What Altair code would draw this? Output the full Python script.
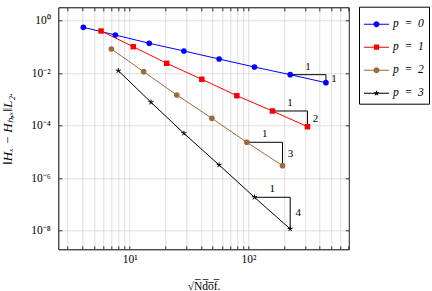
import math
import altair as alt
import pandas as pd

# Convergence data: sqrt(Ndof) against the L2 error, one list pair per degree p
labels = ["p\u2002=\u20020", "p\u2002=\u20021", "p\u2002=\u20022", "p\u2002=\u20023"]
colors = ["#0000ff", "#ff0000", "#9c6b3a", "#000000"]

x_p0 = [4.06, 7.56, 14.6, 28.6, 56.7, 112.6, 225.3, 451]
y_p0 = [0.56, 0.285, 0.138, 0.070, 0.0347, 0.0172, 0.00877, 0.00435]
x_p1 = [5.73, 10.7, 20.5, 40.5, 80.0, 159.7, 315]
y_p1 = [0.405, 0.102, 0.0238, 0.00586, 0.00139, 3.63e-4, 9.16e-5]
x_p2 = [7.0, 13.1, 24.9, 49.2, 97.1, 194]
y_p2 = [0.0835, 0.0114, 1.48e-3, 1.91e-4, 2.33e-5, 3.0e-6]
x_p3 = [8.01, 15.1, 28.6, 56.7, 112.6, 225.3]
y_p3 = [0.01245, 7.8e-4, 5.1e-5, 3.18e-6, 1.87e-7, 1.16e-8]

# Labels of the slope triangles (run, rise)
run_labels = ["1", "1", "1", "1"]
rise_labels = ["1", "2", "3", "4"]

# Axis ticks
x_ticks = [3, 4, 5, 6, 7, 8, 9, 10, 20, 30, 40, 50, 60, 70, 80, 90,
           100, 200, 300, 400, 500, 600, 700]
y_ticks = [1, 1e-2, 1e-4, 1e-6, 1e-8]

xs = [x_p0, x_p1, x_p2, x_p3]
ys = [y_p0, y_p1, y_p2, y_p3]

rows = []
for lab, xv, yv in zip(labels, xs, ys):
    for i, (a, b) in enumerate(zip(xv, yv)):
        rows.append({"series": lab, "i": i, "x": a, "y": b})
df = pd.DataFrame(rows)

# Slope triangles built on the last two points of every series
tri_rows = []
for lab, xv, yv, rl, sl in zip(labels, xs, ys, run_labels, rise_labels):
    xa, ya, xb, yb = xv[-2], yv[-2], xv[-1], yv[-1]
    tri_rows.append({"series": lab, "xa": xa, "ya": ya, "xb": xb, "yb": yb,
                     "xm": math.sqrt(xa * xb), "ym": math.sqrt(ya * yb),
                     "run": rl, "rise": sl})
tri = pd.DataFrame(tri_rows)

W, H = 290.5, 242
PAD_L, PAD_T = 58.3, 7.3
FONT = "Liberation Serif"

xscale = alt.Scale(type="log", domain=[2.497, 703], nice=False)
yscale = alt.Scale(type="log", domain=[1.95e-9, 3.24], nice=False)
cscale = alt.Scale(domain=labels, range=colors)

x_label_expr = "datum.value == 10 ? '10\u00b9' : datum.value == 100 ? '10\u00b2' : ''"
y_label_expr = ("datum.value > 0.5 ? '10\u2070' : datum.value > 5e-3 ? '10\u207b\u00b2' : "
                "datum.value > 5e-5 ? '10\u207b\u2074' : datum.value > 5e-7 ? '10\u207b\u2076' : '10\u207b\u2078'")

x_axis = alt.Axis(values=x_ticks, grid=True, gridColor="#d0d0d0", gridWidth=0.7,
                  ticks=False, domain=False, labelExpr=x_label_expr, labelFont=FONT,
                  labelFontSize=11.5, labelPadding=4, labelColor="black",
                  labelOverlap=False, title="\u221aN\u0305d\u0305o\u0305f\u0305.",
                  titleFont=FONT, titleFontSize=11.5, titleFontWeight="normal",
                  titleColor="black", titleY=37, titleBaseline="middle")
y_axis = alt.Axis(values=y_ticks, grid=True, gridColor="#d0d0d0", gridWidth=0.7,
                  ticks=False, domain=False, labelExpr=y_label_expr, labelFont=FONT,
                  labelFontSize=11.5, labelPadding=8, labelColor="black",
                  title="\u2016H\u2093 \u2212 H\u2095,\u2093\u2016L\u2082.",
                  titleFont=FONT, titleFontSize=13, titleFontWeight="normal",
                  titleFontStyle="italic", titleColor="black", titleX=-51,
                  titleY=H / 2, titleAngle=-90, titleBaseline="middle",
                  titleAlign="center")

base = alt.Chart(df)

# legend symbols: short line with the series marker in the middle
t = 0.04


def line_with(marker, r):
    return (f"M-1,-{t}L-{r},-{t}L-{r},{t}L-1,{t}Z"
            f"M{r},-{t}L1,-{t}L1,{t}L{r},{t}Z" + marker)


def circle_path(r):
    return f"M-{r},0A{r},{r} 0 1,1 {r},0A{r},{r} 0 1,1 -{r},0Z"


def square_path(r):
    return f"M-{r},-{r}L{r},-{r}L{r},{r}L-{r},{r}Z"


def star_path(ro, ri):
    pts = []
    for k in range(10):
        rr = ro if k % 2 == 0 else ri
        a = math.radians(-90 + 36 * k)
        pts.append(f"{rr * math.cos(a):.3f},{rr * math.sin(a):.3f}")
    return "M" + "L".join(pts) + "Z"


legend_shapes = [
    line_with(circle_path(0.24), 0.24),
    line_with(square_path(0.21), 0.21),
    line_with(circle_path(0.24), 0.24),
    line_with(star_path(0.26, 0.1), 0.1),
]

legend_props = dict(
    title=None, orient="none", legendX=300.7, legendY=-0.6,
    labelFont=FONT, labelFontSize=11.5, labelFontStyle="italic", labelColor="black",
    labelOffset=4, padding=5, rowPadding=5, strokeColor="black",
    fillColor="white", cornerRadius=0, symbolSize=625, symbolStrokeWidth=0,
    symbolOpacity=1,
)

# empty layer that only carries the legend (line + marker symbols)
legend_layer = base.transform_filter("false").mark_point(filled=True, opacity=1).encode(
    x=alt.X("x:Q", scale=xscale, axis=None),
    y=alt.Y("y:Q", scale=yscale, axis=None),
    color=alt.Color("series:N", scale=cscale, legend=alt.Legend(**legend_props)),
    shape=alt.Shape("series:N", scale=alt.Scale(domain=labels, range=legend_shapes),
                    legend=alt.Legend(**legend_props)),
)

lines = base.mark_line(strokeWidth=1).encode(
    x=alt.X("x:Q", scale=xscale, axis=x_axis),
    y=alt.Y("y:Q", scale=yscale, axis=y_axis),
    color=alt.Color("series:N", scale=cscale, legend=None),
    order="i:Q",
)

enc = dict(
    x=alt.X("x:Q", scale=xscale, axis=None),
    y=alt.Y("y:Q", scale=yscale, axis=None),
    color=alt.Color("series:N", scale=cscale, legend=None),
)

circles = base.transform_filter(
    alt.FieldOneOfPredicate(field="series", oneOf=[labels[0], labels[2]])
).mark_point(shape="circle", filled=True, size=32, opacity=1).encode(**enc)

squares = base.transform_filter(
    alt.FieldEqualPredicate(field="series", equal=labels[1])
).mark_point(shape="square", filled=True, size=30, opacity=1).encode(**enc)

# five-spoke asterisk marker
spokes = []
for k in range(5):
    a = math.radians(-90 + 72 * k)
    spokes.append(f"M0,0L{math.cos(a):.3f},{math.sin(a):.3f}")
ASTERISK = "".join(spokes)

stars = base.transform_filter(
    alt.FieldEqualPredicate(field="series", equal=labels[3])
).mark_point(shape=ASTERISK, filled=False, size=28, strokeWidth=1, opacity=1).encode(**enc)

tri_base = alt.Chart(tri)
tri_h = tri_base.mark_rule(color="black", strokeWidth=1).encode(
    x=alt.X("xa:Q", scale=xscale, axis=None), x2="xb:Q",
    y=alt.Y("ya:Q", scale=yscale, axis=None),
)
tri_v = tri_base.mark_rule(color="black", strokeWidth=1).encode(
    x=alt.X("xb:Q", scale=xscale, axis=None),
    y=alt.Y("ya:Q", scale=yscale, axis=None), y2="yb:Q",
)
run_text = tri_base.mark_text(font=FONT, fontSize=11, dy=-8, color="black").encode(
    x=alt.X("xm:Q", scale=xscale, axis=None),
    y=alt.Y("ya:Q", scale=yscale, axis=None),
    text="run:N",
)
rise_text = tri_base.mark_text(font=FONT, fontSize=11, dx=8, color="black").encode(
    x=alt.X("xb:Q", scale=xscale, axis=None),
    y=alt.Y("ym:Q", scale=yscale, axis=None),
    text="rise:N",
)


# inward tick marks on all four sides of the frame
def tick_layer(xaxis, yaxis):
    return base.mark_point(opacity=0).encode(
        x=alt.X("x:Q", scale=xscale, axis=xaxis),
        y=alt.Y("y:Q", scale=yscale, axis=yaxis),
    )


def tick_axis(orient, offset, values):
    return alt.Axis(orient=orient, offset=offset, values=values, labels=False,
                    grid=False, domain=False, ticks=True, tickSize=3.5,
                    tickColor="black", tickWidth=0.8, title=None)


ticks_bottom = tick_layer(tick_axis("top", -H, x_ticks), None)
ticks_top = tick_layer(tick_axis("bottom", -H, x_ticks), None)
ticks_left = tick_layer(None, tick_axis("right", -W, y_ticks))
ticks_right = tick_layer(None, tick_axis("left", -W, y_ticks))

chart = alt.layer(
    legend_layer, lines, tri_h, tri_v, circles, squares, stars, run_text, rise_text,
    ticks_bottom, ticks_top, ticks_left, ticks_right,
).resolve_axis(x="independent", y="independent").properties(
    width=W, height=H, autosize="none",
    padding={"left": PAD_L, "top": PAD_T,
             "right": 432 - PAD_L - W, "bottom": 291 - PAD_T - H},
    background="white",
).configure_view(stroke="black", strokeWidth=1)

chart.save("out.html", embed_options={"renderer": "svg", "actions": False})
